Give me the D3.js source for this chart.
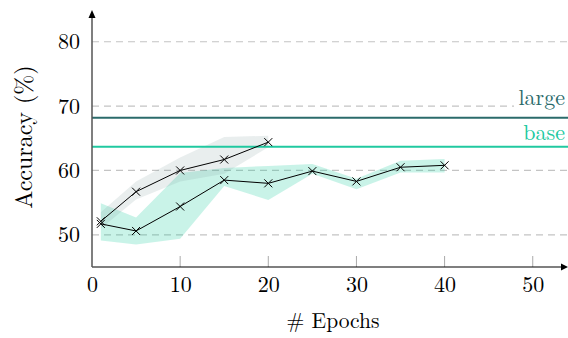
<!DOCTYPE html>
<html>
<head>
<meta charset="utf-8">
<script src="https://cdn.jsdelivr.net/npm/d3@7"></script>
</head>
<body style="margin: 0; background: #fff">
<div id="chart"></div>
<script>
// data
const epochsA = [1, 5, 10, 15, 20];
const accA = [52.1, 56.7, 60.0, 61.7, 64.4];
const accALow = [51.0, 55.5, 58.3, 59.5, 63.6];
const accAHigh = [53.5, 58.3, 62.0, 65.2, 65.4];

const epochsB = [1, 5, 10, 15, 20, 25, 30, 35, 40];
const accB = [51.7, 50.6, 54.4, 58.5, 58.0, 59.9, 58.3, 60.5, 60.8];
const accBLow = [49.1, 48.5, 49.4, 57.6, 55.4, 59.5, 57.1, 59.7, 59.7];
const accBHigh = [54.9, 52.7, 59.6, 60.4, 60.7, 61.0, 58.7, 61.5, 61.8];

const refNames = ["large", "base"];
const refValues = [68.2, 63.7];
const refColors = ["#2b6b6b", "#20c9a0"];

const xTicks = [0, 10, 20, 30, 40, 50];
const yTicks = [50, 60, 70, 80];

const WIDTH = 568;
const HEIGHT = 338;
const FONT = "'Latin Modern Roman', 'Liberation Serif', serif";
const TICK_FS = "22px";

const svg = d3
  .select("#chart")
  .append("svg")
  .attr("width", WIDTH)
  .attr("height", HEIGHT);

const xScale = d3.scaleLinear().domain([0, 54]).range([92, 568]);
const yScale = d3.scaleLinear().domain([45, 84]).range([267, 16]);

// dashed grid
svg
  .selectAll(".grid")
  .data(yTicks)
  .enter()
  .append("line")
  .attr("x1", xScale(0))
  .attr("x2", xScale(54))
  .attr("y1", (d) => yScale(d))
  .attr("y2", (d) => yScale(d))
  .attr("stroke", "#c4c4c4")
  .attr("stroke-width", 1.2)
  .attr("stroke-dasharray", "7,5");

// bands
const band = (xs, lo, hi) =>
  d3
    .area()
    .x((d, i) => xScale(xs[i]))
    .y0((d, i) => yScale(lo[i]))
    .y1((d, i) => yScale(hi[i]))(xs);

svg
  .append("path")
  .attr("d", band(epochsB, accBLow, accBHigh))
  .attr("fill", "#1dcba0")
  .attr("fill-opacity", 0.24);

svg
  .append("path")
  .attr("d", band(epochsA, accALow, accAHigh))
  .attr("fill", "#7d9a9c")
  .attr("fill-opacity", 0.17);

// reference lines: white label boxes first, then lines, then labels
const labelOffsets = [13, 7];
refNames.forEach((name, i) => {
  svg
    .append("rect")
    .attr("x", 514)
    .attr("y", yScale(refValues[i]) - labelOffsets[i] - 17)
    .attr("width", 54)
    .attr("height", 22)
    .attr("fill", "#fff");
});
refNames.forEach((name, i) => {
  svg
    .append("line")
    .attr("x1", xScale(0))
    .attr("x2", xScale(54))
    .attr("y1", yScale(refValues[i]))
    .attr("y2", yScale(refValues[i]))
    .attr("stroke", refColors[i])
    .attr("stroke-width", 2);
});
refNames.forEach((name, i) => {
  svg
    .append("text")
    .attr("x", 565)
    .attr("y", yScale(refValues[i]) - labelOffsets[i])
    .attr("text-anchor", "end")
    .style("font-family", FONT)
    .style("font-size", "22px")
    .attr("fill", refColors[i])
    .text(name);
});

// series lines and crosses
function drawSeries(xs, ys) {
  const line = d3
    .line()
    .x((d, i) => xScale(xs[i]))
    .y((d) => yScale(d));
  svg
    .append("path")
    .attr("d", line(ys))
    .attr("fill", "none")
    .attr("stroke", "#000")
    .attr("stroke-width", 1);
  svg
    .append("g")
    .selectAll("path")
    .data(ys)
    .enter()
    .append("path")
    .attr("transform", (d, i) => `translate(${xScale(xs[i])},${yScale(d)})`)
    .attr("d", "M-4,-4L4,4M-4,4L4,-4")
    .attr("stroke", "#000")
    .attr("stroke-width", 1);
}
drawSeries(epochsA, accA);
drawSeries(epochsB, accB);

// x axis
const xAxis = svg
  .append("g")
  .attr("transform", `translate(0, ${yScale(45)})`)
  .call(d3.axisBottom(xScale).tickValues(xTicks).tickSize(0).tickPadding(9));
xAxis.select(".domain").remove();
xAxis
  .selectAll("text")
  .style("font-family", FONT)
  .style("font-size", TICK_FS)
  .attr("fill", "#000");
svg
  .selectAll(".xtick")
  .data(xTicks.slice(1))
  .enter()
  .append("line")
  .attr("x1", (d) => xScale(d))
  .attr("x2", (d) => xScale(d))
  .attr("y1", yScale(45) - 11)
  .attr("y2", yScale(45))
  .attr("stroke", "#aaa")
  .attr("stroke-width", 1);
svg
  .append("line")
  .attr("x1", xScale(0))
  .attr("x2", 566)
  .attr("y1", yScale(45))
  .attr("y2", yScale(45))
  .attr("stroke", "#000")
  .attr("stroke-width", 1.2);
svg
  .append("path")
  .attr("d", `M568,${yScale(45)}l-7,-3.5v7z`)
  .attr("fill", "#000");

// y axis
const yAxis = svg
  .append("g")
  .attr("transform", `translate(${xScale(0)}, 0)`)
  .call(d3.axisLeft(yScale).tickValues(yTicks).tickSize(0).tickPadding(12));
yAxis.select(".domain").remove();
yAxis
  .selectAll("text")
  .style("font-family", FONT)
  .style("font-size", TICK_FS)
  .attr("fill", "#000");
svg
  .append("line")
  .attr("x1", xScale(0))
  .attr("x2", xScale(0))
  .attr("y1", yScale(45))
  .attr("y2", 16)
  .attr("stroke", "#555")
  .attr("stroke-width", 1.5);
svg
  .append("path")
  .attr("d", `M${xScale(0)},10l-3.5,8h7z`)
  .attr("fill", "#000");

// axis titles
svg
  .append("text")
  .attr("x", 333)
  .attr("y", 328)
  .attr("text-anchor", "middle")
  .style("font-family", FONT)
  .style("font-size", "21.5px")
  .text("# Epochs");

svg
  .append("text")
  .attr("transform", "translate(32, 137) rotate(-90)")
  .attr("text-anchor", "middle")
  .style("font-family", FONT)
  .style("font-size", "24px")
  .text("Accuracy (%)");
</script>
</body>
</html>
